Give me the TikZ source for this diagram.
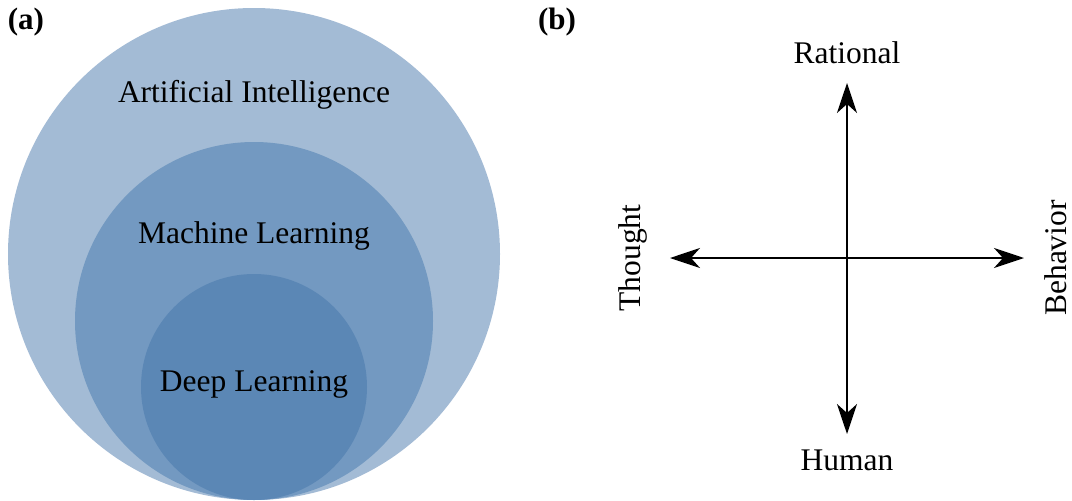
\documentclass[tikz,border=0pt]{standalone}
\usepackage{fontspec}
\setmainfont{Liberation Serif}
\usetikzlibrary{arrows.meta}
\definecolor{aiblue}{HTML}{A3BBD5}
\definecolor{mlblue}{HTML}{7399C1}
\definecolor{dlblue}{HTML}{5B87B5}
\tikzset{
  setlabel/.style={font=\fontsize{31.5}{36}\selectfont, text=black},
  axislabel/.style={font=\fontsize{31.5}{36}\selectfont, text=black, inner sep=0pt},
  panellabel/.style={font=\fontsize{31}{36}\selectfont\bfseries},
  axisarrow/.style={line width=2pt, {Stealth[length=30pt,width=20pt,inset=9pt]}-{Stealth[length=30pt,width=20pt,inset=9pt]}},
}
\begin{document}
\begin{tikzpicture}[x=1pt,y=-1pt]
  \useasboundingbox (0,0) rectangle (1072,501);

  % (a) nested sets
  \fill[aiblue] (254,254) circle (246pt);
  \fill[mlblue] (254,321) circle (179pt);
  \fill[dlblue] (254,387) circle (113pt);
  \node[setlabel] (ai) at (254,95) {Artificial Intelligence};
  \node[setlabel] (ml) at (254,236) {Machine Learning};
  \node[setlabel] (dl) at (254,384) {Deep Learning};
  \node[panellabel] (pa) at (26,22) {(a)};

  % (b) two axes
  \node[panellabel] (pb) at (557,22) {(b)};
  \node[axislabel] (rational) at (847,53) {Rational};
  \node[axislabel] (human) at (847,460) {Human};
  \node[axislabel, rotate=90] (thought) at (633,258) {Thought};
  \node[axislabel, rotate=90] (behavior) at (1056,258) {Behavior};
  \coordinate (top) at (847,83);
  \coordinate (bottom) at (847,434);
  \coordinate (left) at (670,258);
  \coordinate (right) at (1024,258);
  \draw[axisarrow] (bottom) -- (top);
  \draw[axisarrow] (left) -- (right);
\end{tikzpicture}
\end{document}
